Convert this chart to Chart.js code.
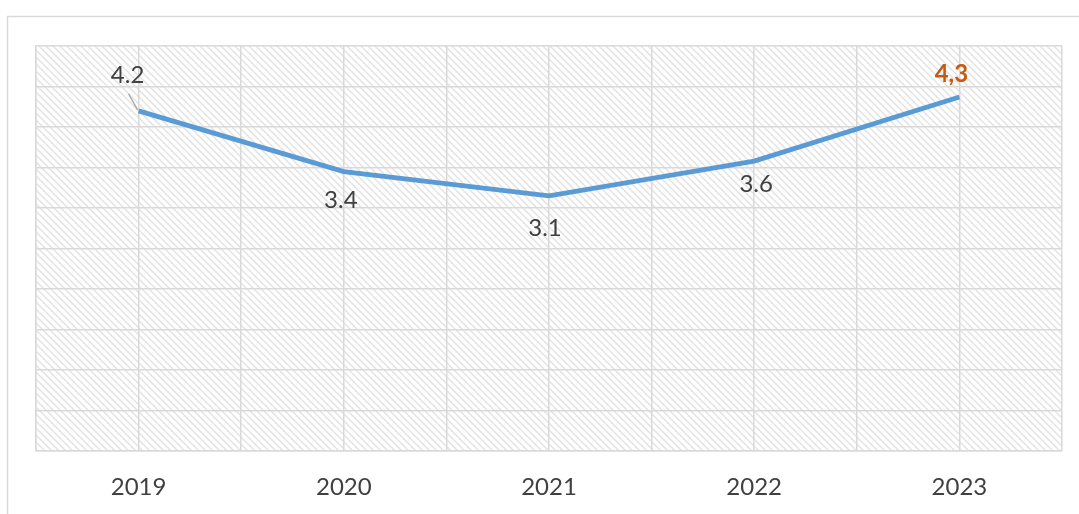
<!DOCTYPE html>
<html>
<head>
<meta charset="utf-8">
<script src="https://cdn.jsdelivr.net/npm/chart.js@4/dist/chart.umd.min.js"></script>
<style>
  html, body { margin: 0; padding: 0; background: #fff; }
  #wrap { width: 1079px; height: 514px; }
</style>
</head>
<body>
<div id="wrap"><canvas id="lineChart" width="1079" height="514"></canvas></div>
<script>
const years = ["2019", "2020", "2021", "2022", "2023"]
const values = [4.2, 3.45, 3.15, 3.58, 4.37]
const pointLabels = ["4.2", "3.4", "3.1", "3.6", "4,3"]

const GRID = "#d9d9d9"
const TEXT = "#404040"
const FONT = "Lato, 'Open Sans', sans-serif"

function makeHatch(ctx){
  const tile = document.createElement("canvas")
  tile.width = 7
  tile.height = 7
  const t = tile.getContext("2d")
  t.fillStyle = "#ffffff"
  t.fillRect(0, 0, 7, 7)
  t.strokeStyle = "#e2e2e2"
  t.lineWidth = 1.4
  t.beginPath()
  t.moveTo(-1, -1)
  t.lineTo(8, 8)
  t.moveTo(-8, -1)
  t.lineTo(1, 8)
  t.moveTo(6, -1)
  t.lineTo(15, 8)
  t.stroke()
  return ctx.createPattern(tile, "repeat")
}

const frame = {
  id: "frame",
  beforeDraw(chart){
    const ctx = chart.ctx
    const a = chart.chartArea
    ctx.save()
    ctx.fillStyle = "#fff"
    ctx.fillRect(0, 0, chart.width, chart.height)
    ctx.strokeStyle = GRID
    ctx.lineWidth = 1.5
    ctx.beginPath()
    ctx.moveTo(7.5, chart.height)
    ctx.lineTo(7.5, 16.5)
    ctx.lineTo(chart.width, 16.5)
    ctx.stroke()
    ctx.fillStyle = makeHatch(ctx)
    ctx.fillRect(a.left, a.top, a.right - a.left, a.bottom - a.top)
    ctx.restore()
  }
}

// label placement relative to each point
const labelOffsets = [[-11, -36], [-3, 29], [-4, 32], [2, 23], [-8, -23]]

const valueLabels = {
  id: "valueLabels",
  afterDatasetsDraw(chart){
    const ctx = chart.ctx
    const pts = chart.getDatasetMeta(0).data
    ctx.save()
    ctx.textAlign = "center"
    ctx.textBaseline = "middle"
    pts.forEach((p, i) => {
      const [dx, dy] = labelOffsets[i]
      const last = i === pts.length - 1
      ctx.fillStyle = last ? "#c55a11" : TEXT
      ctx.font = (last ? "bold " : "") + "24px " + FONT
      ctx.fillText(pointLabels[i], p.x + dx, p.y + dy)
    })
    // leader line for the first label
    const p0 = pts[0]
    ctx.strokeStyle = "#a6a6a6"
    ctx.lineWidth = 1.3
    ctx.beginPath()
    ctx.moveTo(p0.x - 10, p0.y - 17)
    ctx.lineTo(p0.x - 1, p0.y - 1)
    ctx.stroke()
    ctx.restore()
  }
}

new Chart(document.getElementById("lineChart"), {
  type: "line",
  data: {
    datasets: [{
      data: years.map((y, i) => ({ x: i, y: values[i] })),
      borderColor: "#5b9bd5",
      borderWidth: 4.8,
      pointRadius: 0,
      tension: 0,
      fill: false
    }]
  },
  options: {
    responsive: false,
    animation: false,
    events: [],
    layout: { padding: { left: 36, top: 46, right: 17, bottom: -10 } },
    plugins: { legend: { display: false }, tooltip: { enabled: false } },
    scales: {
      x: {
        type: "linear",
        min: -0.5,
        max: 4.5,
        afterFit(scale){
          scale.paddingLeft = 0
          scale.paddingRight = 0
        },
        grid: { color: GRID, lineWidth: 1.5, drawTicks: false },
        border: { color: GRID, width: 1.5 },
        ticks: {
          stepSize: 0.5,
          autoSkip: false,
          maxRotation: 0,
          padding: 22,
          color: TEXT,
          font: { family: FONT, size: 24 },
          callback: (v) => Number.isInteger(v) ? years[v] : ""
        }
      },
      y: {
        min: 0,
        max: 5,
        grid: { color: GRID, lineWidth: 1.5, drawTicks: false },
        border: { color: GRID, width: 1.5 },
        ticks: { display: false, stepSize: 0.5 }
      }
    }
  },
  plugins: [frame, valueLabels]
})
</script>
</body>
</html>
